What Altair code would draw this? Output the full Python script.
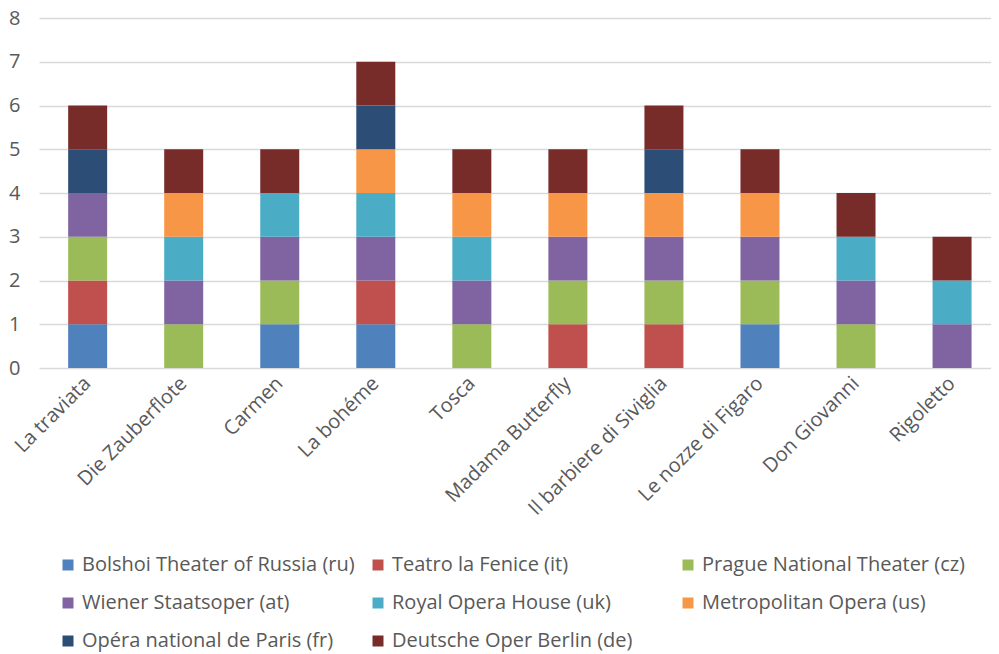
import altair as alt
import pandas as pd

operas = ["La traviata", "Die Zauberflote", "Carmen", "La bohéme", "Tosca",
          "Madama Butterfly", "Il barbiere di Siviglia", "Le nozze di Figaro",
          "Don Giovanni", "Rigoletto"]

theaters = ["Bolshoi Theater of Russia (ru)", "Teatro la Fenice (it)",
            "Prague National Theater (cz)", "Wiener Staatsoper (at)",
            "Royal Opera House (uk)", "Metropolitan Opera (us)",
            "Opéra national de Paris (fr)", "Deutsche Oper Berlin (de)"]

colors = ["#4f81bd", "#c0504d", "#9bbb59", "#8064a2",
          "#4bacc6", "#f79646", "#2c4d75", "#772c2a"]

# one list per theater: value per opera (in opera order)
bolshoi = [1, 0, 1, 1, 0, 0, 0, 1, 0, 0]
fenice = [1, 0, 0, 1, 0, 1, 1, 0, 0, 0]
prague = [1, 1, 1, 0, 1, 1, 1, 1, 1, 0]
wiener = [1, 1, 1, 1, 1, 1, 1, 1, 1, 1]
royal = [0, 1, 1, 1, 1, 0, 0, 0, 1, 1]
met = [0, 1, 0, 1, 1, 1, 1, 1, 0, 0]
paris = [1, 0, 0, 1, 0, 0, 1, 0, 0, 0]
berlin = [1, 1, 1, 1, 1, 1, 1, 1, 1, 1]

series = [bolshoi, fenice, prague, wiener, royal, met, paris, berlin]

rows = []
for si, (name, vals) in enumerate(zip(theaters, series)):
    for opera, v in zip(operas, vals):
        if v:
            rows.append({"opera": opera, "theater": name, "value": v, "idx": si})
df = pd.DataFrame(rows)

FONT = "Open Sans"
TXT = "#595959"

chart = alt.Chart(df).mark_bar().encode(
    x=alt.X("opera:N", sort=operas, title=None,
            scale=alt.Scale(paddingInner=0.594, paddingOuter=0.253, align=0.6),
            axis=alt.Axis(labelAngle=-45, labelAlign="right", labelBaseline="middle",
                          labelPadding=12, labelLimit=400, ticks=False, domain=False,
                          labelFont=FONT, labelFontSize=20, labelColor=TXT)),
    y=alt.Y("sum(value):Q", title=None,
            scale=alt.Scale(domain=[0, 8]),
            axis=alt.Axis(values=list(range(9)), ticks=False, domain=False,
                          labelFont=FONT, labelFontSize=20, labelColor=TXT,
                          labelPadding=19, gridColor="#d9d9d9", gridWidth=1.5)),
    color=alt.Color("theater:N", sort=theaters,
                    scale=alt.Scale(domain=theaters, range=colors),
                    legend=alt.Legend(title=None, orient="none", legendX=19, legendY=537,
                                      direction="horizontal", columns=3, padding=0,
                                      gridAlign="all", columnPadding=13, rowPadding=18,
                                      symbolType="square", symbolSize=121,
                                      symbolStrokeWidth=0, labelOffset=4,
                                      labelFont=FONT, labelFontSize=20,
                                      labelColor=TXT, labelLimit=400)),
    order=alt.Order("idx:Q", sort="ascending"),
).properties(
    width=952, height=350,
    autosize=alt.AutoSizeParams(type="none"),
    padding={"left": 31, "top": 10, "right": 0, "bottom": 290},
).configure_view(stroke=None)

chart.save("out.html", embed_options={"renderer": "svg", "actions": False})
